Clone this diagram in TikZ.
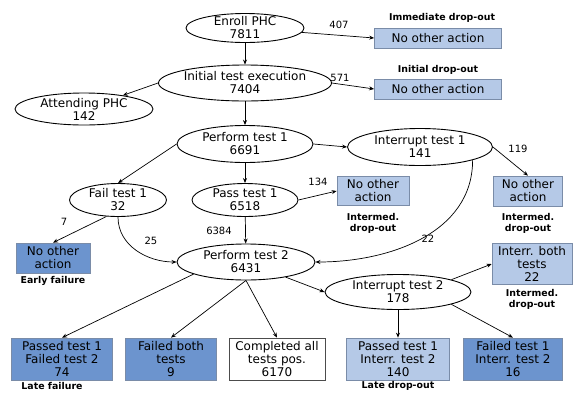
\documentclass[tikz,border=0pt]{standalone}
\usepackage{fontspec}
\setmainfont{DejaVu Sans}
\usetikzlibrary{shapes.geometric,arrows.meta}
\definecolor{lightb}{HTML}{B5C9E7}
\definecolor{darkb}{HTML}{6C94CE}
\definecolor{boxline}{HTML}{7A8CA8}
\begin{document}
\begin{tikzpicture}[x=1pt,y=-1pt,
  ell/.style={ellipse,draw,line width=0.9pt,inner xsep=0pt,inner ysep=-5pt,align=center,font=\fontsize{12}{13}\selectfont},
  box/.style={rectangle,draw=boxline,line width=0.7pt,inner sep=0pt,align=center,font=\fontsize{12}{13}\selectfont},
  lbox/.style={box,fill=lightb},
  dbox/.style={box,fill=darkb},
  wbox/.style={box,fill=white,draw=black!70},
  arr/.style={-{Stealth[length=5pt,width=4pt]},line width=0.7pt},
  num/.style={font=\fontsize{10}{11}\selectfont,inner sep=0pt},
  tag/.style={font=\bfseries\fontsize{9.4}{11}\selectfont,align=center,inner sep=0pt}]
\useasboundingbox (0,0) rectangle (574,392);

% ellipses
\node[ell,minimum width=118pt,minimum height=29pt] (enroll) at (245,28) {Enroll PHC\\7811};
\node[ell,minimum width=170pt,minimum height=36pt] (init) at (245,83) {Initial test execution\\7404};
\node[ell,minimum width=138pt,minimum height=32pt] (attend) at (84,109) {Attending PHC\\142};
\node[ell,minimum width=136pt,minimum height=37pt] (pt1) at (245,144) {Perform test 1\\6691};
\node[ell,minimum width=97pt,minimum height=33pt] (fail) at (118,200) {Fail test 1\\32};
\node[ell,minimum width=106pt,minimum height=33pt] (pass) at (245,200) {Pass test 1\\6518};
\node[ell,minimum width=145pt,minimum height=37pt] (int1) at (420,147) {Interrupt test 1\\141};
\node[ell,minimum width=138pt,minimum height=36pt] (pt2) at (246,262) {Perform test 2\\6431};
\node[ell,minimum width=146pt,minimum height=35pt] (int2) at (398,292) {Interrupt test 2\\178};

% boxes
\node[lbox,minimum width=127pt,minimum height=20pt] (imm) at (438,38) {No other action};
\node[tag] (immt) at (442,18) {Immediate drop-out};
\node[lbox,minimum width=127pt,minimum height=20pt] (ini) at (438,89) {No other action};
\node[tag] (init-t) at (438,70) {Initial drop-out};
\node[lbox,minimum width=72pt,minimum height=29pt] (noa134) at (373,191) {No other\\action};
\node[tag] (t134) at (373,223) {Intermed.\\drop-out};
\node[lbox,minimum width=69pt,minimum height=30pt] (noa119) at (528,191) {No other\\action};
\node[tag] (t119) at (528,223) {Intermed.\\drop-out};
\node[dbox,minimum width=74pt,minimum height=30pt] (noa7) at (53,258) {No other\\action};
\node[tag] (t7) at (53,281) {Early failure};
\node[lbox,minimum width=80pt,minimum height=41pt] (both) at (532,264) {Interr. both\\tests\\22};
\node[tag] (tboth) at (532,299) {Intermed.\\drop-out};

\node[dbox,minimum width=101pt,minimum height=42pt] (b74) at (62,359) {Passed test 1\\Failed test 2\\74};
\node[tag] (t74) at (52,386) {Late failure};
\node[dbox,minimum width=91pt,minimum height=42pt] (b9) at (171,359) {Failed both\\tests\\9};
\node[wbox,minimum width=96pt,minimum height=42pt] (bc) at (277,359) {Completed all\\tests pos.\\6170};
\node[lbox,minimum width=103pt,minimum height=42pt] (b140) at (398,359) {Passed test 1\\Interr. test 2\\140};
\node[tag] (t140) at (398,386) {Late drop-out};
\node[dbox,minimum width=99pt,minimum height=42pt] (b16) at (513,359) {Failed test 1\\Interr. test 2\\16};

% connectors
\draw[arr] (enroll) -- (init);
\draw[arr] (enroll) -- (imm.west);
\draw[arr] (init.east) -- (ini.west);
\draw[arr] (init.west) -- (attend);
\draw[arr] (init) -- (pt1);
\draw[arr] (pt1.west) -- (fail.north);
\draw[arr] (pt1) -- (pass);
\draw[arr] (pt1.east) -- (int1.west);
\draw[arr] (pass.east) -- (noa134.west);
\draw[arr] (int1.east) -- (noa119.north);
\draw[arr] (int1.-14) to[out=-90,in=0] (pt2.east);
\draw[arr] (fail.235) -- (noa7.north);
\draw[arr] (fail.south) to[out=-90,in=180] (pt2.west);
\draw[arr] (pass) -- (pt2);
\draw[arr] (pt2) -- (int2.west);
\draw[arr] (pt2.193) -- (b74.north);
\draw[arr] (pt2.south) -- (b9.north);
\draw[arr] (pt2.south) -- (bc.north);
\draw[arr] (int2.13) -- (both.west);
\draw[arr] (int2) -- (b140);
\draw[arr] (int2.-13) -- (b16.north);

% numbers
\node[num] (n407) at (339,25) {407};
\node[num] (n571) at (340,78) {571};
\node[num] (n134) at (318,182) {134};
\node[num] (n119) at (518,149) {119};
\node[num] (n7) at (64,222) {7};
\node[num] (n25) at (151,241) {25};
\node[num] (n6384) at (219,231) {6384};
\node[num] (n22) at (428,239) {22};
\end{tikzpicture}
\end{document}
